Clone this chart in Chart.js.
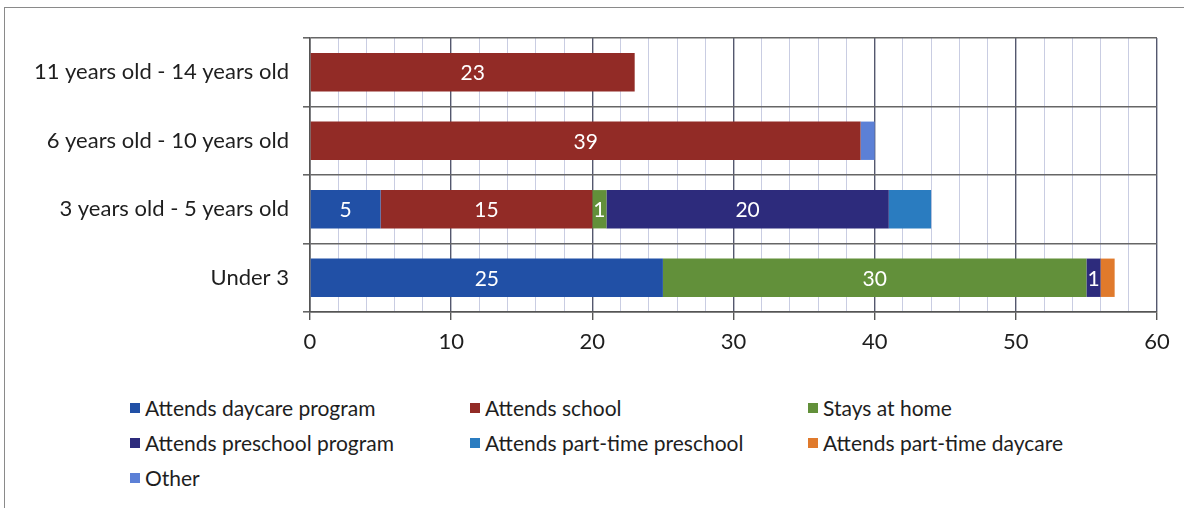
<!DOCTYPE html>
<html>
<head>
<meta charset="utf-8">
<script src="https://cdn.jsdelivr.net/npm/chart.js@4.4.1/dist/chart.umd.min.js"></script>
<style>
  html, body { margin: 0; padding: 0; background: #fff; }
  body { width: 1184px; height: 508px; position: relative; overflow: hidden; font-family: Lato, "Open Sans", sans-serif; }
  #frame { position: absolute; left: 4px; top: 7px; width: 1200px; height: 520px; border: 1.5px solid #8a8a8a; }
  #chartWrap { position: absolute; left: 0; top: 0; width: 1184px; height: 360px; }
  #legend { position: absolute; left: 130px; top: 390px; display: grid; grid-template-columns: 340px 338px 330px; grid-auto-rows: 35px; font-size: 21px; color: #1e1e1e; }
  .legend-item { display: flex; align-items: center; white-space: nowrap; }
  .legend-box { width: 10px; height: 10px; margin-right: 5px; }
</style>
</head>
<body>
<div id="frame"></div>
<div id="chartWrap"><canvas id="careChart"></canvas></div>
<div id="legend"></div>
<script>
// age groups, top to bottom
const ageGroups = ['11 years old - 14 years old', '6 years old - 10 years old', '3 years old - 5 years old', 'Under 3'];

const daycareProgram = [0, 0, 5, 25];
const attendsSchool = [23, 39, 15, 0];
const staysAtHome = [0, 0, 1, 30];
const preschoolProgram = [0, 0, 20, 1];
const partTimePreschool = [0, 0, 3, 0];
const partTimeDaycare = [0, 0, 0, 1];
const otherCare = [0, 1, 0, 0];

const xTicks = [0, 10, 20, 30, 40, 50, 60];

const seriesNames = ['Attends daycare program', 'Attends school', 'Stays at home',
    'Attends preschool program', 'Attends part-time preschool', 'Attends part-time daycare', 'Other'];
const seriesData = [daycareProgram, attendsSchool, staysAtHome, preschoolProgram,
    partTimePreschool, partTimeDaycare, otherCare];
const seriesColors = ['#2150a6', '#922b26', '#62903a', '#2d2b7c', '#2a7cc0', '#e07a2c', '#5c80d6'];
// only the larger categories carry a value label
const seriesLabelled = [true, true, true, true, false, false, false];

const datasets = seriesNames.map((name, i) => ({
    label: name,
    data: seriesData[i],
    backgroundColor: seriesColors[i],
    borderWidth: 0,
    showValues: seriesLabelled[i]
}));

const valueLabels = {
    id: 'valueLabels',
    afterDatasetsDraw(chart) {
        const ctx = chart.ctx;
        ctx.save();
        ctx.fillStyle = '#ffffff';
        ctx.font = '21px Lato, "Open Sans", sans-serif';
        ctx.textAlign = 'center';
        ctx.textBaseline = 'middle';
        chart.data.datasets.forEach((ds, i) => {
            if (!ds.showValues) return;
            chart.getDatasetMeta(i).data.forEach((bar, j) => {
                const v = ds.data[j];
                if (!v) return;
                const left = Math.min(bar.x, bar.base);
                const right = Math.max(bar.x, bar.base);
                ctx.fillText(String(v), (left + right) / 2, bar.y + 1);
            });
        });
        ctx.restore();
    }
};

const labelFont = { family: 'Lato, "Open Sans", sans-serif', size: 22 };

const careChart = new Chart(document.getElementById('careChart'), {
    type: 'bar',
    data: { labels: ageGroups, datasets: datasets },
    options: {
        indexAxis: 'y',
        responsive: true,
        maintainAspectRatio: false,
        animation: false,
        layout: { padding: { top: 38, right: 27, left: 0, bottom: 0 } },
        datasets: { bar: { categoryPercentage: 1, barPercentage: 0.56 } },
        plugins: { legend: { display: false }, tooltip: { enabled: false } },
        scales: {
            x: {
                stacked: true,
                min: 0,
                max: 60,
                afterFit(scale) { scale.height = 48; },
                ticks: {
                    stepSize: 2,
                    autoSkip: false,
                    maxRotation: 0,
                    padding: 9,
                    color: '#1e1e1e',
                    font: labelFont,
                    callback: v => xTicks.includes(v) ? String(v) : ''
                },
                grid: {
                    color: c => c.tick && c.tick.value % 10 === 0 ? '#54586e' : '#c9cde2',
                    lineWidth: c => c.tick && c.tick.value % 10 === 0 ? 1.4 : 1,
                    tickColor: c => c.tick && c.tick.value % 10 === 0 ? '#555' : 'rgba(0,0,0,0)',
                    tickLength: 8
                },
                border: { color: '#555', width: 1.6 }
            },
            y: {
                stacked: true,
                afterFit(scale) { scale.width = 310; },
                ticks: { color: '#1e1e1e', font: labelFont, padding: 14 },
                grid: { offset: true, color: '#666', lineWidth: 1.6, tickLength: 7 },
                border: { color: '#555', width: 1.6 }
            }
        }
    },
    plugins: [valueLabels]
});

// legend laid out in three columns
const legendBox = document.getElementById('legend');
careChart.data.datasets.forEach(ds => {
    const item = document.createElement('div');
    item.className = 'legend-item';
    const box = document.createElement('span');
    box.className = 'legend-box';
    box.style.background = ds.backgroundColor;
    const text = document.createElement('span');
    text.textContent = ds.label;
    item.appendChild(box);
    item.appendChild(text);
    legendBox.appendChild(item);
});
</script>
</body>
</html>
